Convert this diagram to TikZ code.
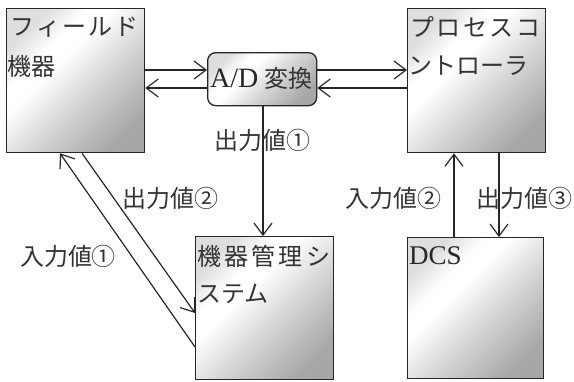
\documentclass[tikz,border=0pt]{standalone}
\usepackage{fontspec}
\setmainfont{Liberation Serif}
\newfontfamily\jp{Noto Sans CJK JP}
\usetikzlibrary{arrows.meta,calc}
\pgfdeclareverticalshading{boxshade}{100bp}{color(0bp)=(black!36); color(25bp)=(black!34); color(45bp)=(black!15); color(59bp)=(white); color(65bp)=(white); color(75bp)=(black!13); color(100bp)=(black!13)}
\begin{document}
\begin{tikzpicture}[x=1pt,y=-1pt,
  box/.style={draw=black!85, line width=1.3pt, shading=boxshade, shading angle=45, inner sep=0pt, anchor=north west},
  arr/.style={draw=black!85, line width=1.2pt, -{Straight Barb[length=12pt,width=18pt,line width=1.2pt]}},
  lbl/.style={font=\jp\fontsize{24}{24}\selectfont, text=black!80, inner sep=0pt},
  txt/.style={lbl, anchor=west},
  lat/.style={font=\fontsize{27}{27}\selectfont, text=black!85, inner sep=0pt},
]
\useasboundingbox (0,0) rectangle (574,381);
% boxes
\node[box, minimum width=138pt, minimum height=144pt] (fd) at (6,8) {};
\node[box, rounded corners=8pt, minimum width=109pt, minimum height=53pt] (ad) at (207,52) {};
\node[box, minimum width=138pt, minimum height=144pt] (pc) at (407,8) {};
\node[box, minimum width=138pt, minimum height=143pt] (mms) at (195,236) {};
\node[box, minimum width=136pt, minimum height=141pt] (dcs) at (407,237) {};
% box texts
\node[txt] (fd1) at (10,27) {\hbox to 128pt{フ\hfil ィ\hfil ー\hfil ル\hfil ド}};
\node[txt] (fd2) at (7,66) {機器};
\node[txt] (pc1) at (410,27) {\hbox to 130pt{プ\hfil ロ\hfil セ\hfil ス\hfil コ}};
\node[txt] (pc2) at (408,66) {ントローラ};
\node[txt] (mm1) at (197,256) {\hbox to 133pt{機\hfil 器\hfil 管\hfil 理\hfil シ}};
\node[txt] (mm2) at (197,294) {ステム};
\node[lat, anchor=west] (dc1) at (409,256) {DCS};
\node[anchor=west, inner sep=0pt] (ad1) at (210,78) {{\fontsize{28}{28}\selectfont\color{black!85}A/D}\hspace{6pt}{\jp\fontsize{24}{24}\selectfont\color{black!80}変換}};
% arrows
\draw[arr] ($(fd.north east)+(0,62)$) -- ($(ad.north west)+(0,18)$);
\draw[arr] ($(ad.north west)+(0,36)$) -- ($(fd.north east)+(0,80)$);
\draw[arr] ($(ad.north east)+(0,18)$) -- ($(pc.north west)+(0,62)$);
\draw[arr] ($(pc.north west)+(0,80)$) -- ($(ad.north east)+(0,36)$);
\draw[arr] ($(ad.south west)+(56,0)$) -- ($(mms.north west)+(68,0)$);
\draw[arr] ($(fd.south west)+(76,0)$) -- ($(mms.north west)+(0,77)$);
\draw[arr] ($(mms.north west)+(0,111)$) -- ($(fd.south west)+(54,0)$);
\draw[arr] ($(pc.south west)+(92,0)$) -- ($(dcs.north west)+(92,0)$);
\draw[arr] ($(dcs.north west)+(47,0)$) -- ($(pc.south west)+(47,0)$);
% labels
\node[lbl] (l1) at (262,140) {出力値①};
\node[lbl] (l2) at (170,198) {出力値②};
\node[lbl] (l3) at (68,256) {入力値①};
\node[lbl] (l4) at (393,198) {入力値②};
\node[lbl] (l5) at (524,198) {出力値③};
\end{tikzpicture}
\end{document}
